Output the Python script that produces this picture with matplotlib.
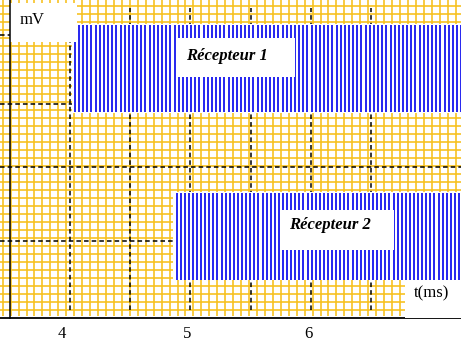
import numpy as np
import matplotlib
matplotlib.use('Agg')
import matplotlib.pyplot as plt
from matplotlib.patches import Rectangle
from matplotlib.transforms import ScaledTranslation

# ---- values ----
time_ticks = [4, 5, 6]                      # labelled times (ms)
major_t = [4.0, 4.5, 5.0, 5.5, 6.0, 6.5]    # dashed vertical grid (ms)
major_v = [9.6, 18.9, 26.75, 35.4]          # dashed horizontal grid (mV units)
axis_t = 3.5                                # position of the mV axis

# receiver bursts: start, end, period (ms), low and high level
burst1_t = [4.04, 7.25]
burst1_period = 0.0345
burst1_v = [25.7, 36.6]
burst2_t = [4.885, 7.25]
burst2_period = 0.034
burst2_v = [4.75, 15.65]

labels = ['Récepteur 1', 'Récepteur 2']

orange = '#f7c01a'
blue = '#0000ee'

fig = plt.figure(figsize=(4.61, 3.45), dpi=100)
ax = fig.add_axes([0, 27 / 345, 1, 318 / 345])
ax.set_xlim(3.4186, 7.2475)
ax.set_ylim(0, 39.75)

# millimetre paper (orange)
ax.vlines(np.arange(3.441, 7.25, 0.066), 0.25, 39.75, color=orange, lw=1.15, zorder=1)
ax.hlines(np.arange(1, 40, 1), 3.4186, 7.2475, color=orange, lw=1.15, zorder=1)

# dashed main grid
ax.vlines(major_t, 1, 38.75, color='black', lw=1.1, linestyles=(0, (3, 2)), zorder=2)
ax.hlines(major_v, 3.4186, 7.2475, color='black', lw=1.1, linestyles=(0, (3, 2)), zorder=2)

# axes lines
ax.spines['left'].set_position(('data', axis_t))
ax.spines['left'].set_linewidth(1.1)
ax.spines['bottom'].set_linewidth(1.3)
ax.spines['left'].set_zorder(6)
ax.spines['top'].set_visible(False)
ax.spines['right'].set_visible(False)
ax.set_yticks([])

# white backgrounds behind the bursts
ax.add_patch(Rectangle((4.017, 25.6), 3.3, 11.1, facecolor='white', edgecolor='none', zorder=3))
ax.add_patch(Rectangle((4.855, 4.7), 2.5, 11.0, facecolor='white', edgecolor='none', zorder=3))

# the two received signals
ax.vlines(np.arange(burst1_t[0], burst1_t[1], burst1_period), burst1_v[0], burst1_v[1],
          color=blue, lw=1.2, zorder=4)
ax.vlines(np.arange(burst2_t[0], burst2_t[1], burst2_period), burst2_v[0], burst2_v[1],
          color=blue, lw=1.2, zorder=4)

# white label boxes
ax.add_patch(Rectangle((3.505, 34.44), 0.555, 4.94, facecolor='white', edgecolor='none', zorder=5))  # mV
ax.add_patch(Rectangle((4.897, 30.12), 0.972, 4.88, facecolor='white', edgecolor='none', zorder=5))
ax.add_patch(Rectangle((5.761, 8.5), 0.93, 4.94, facecolor='white', edgecolor='none', zorder=5))
ax.add_patch(Rectangle((6.782, 0.05), 0.5, 4.7, facecolor='white', edgecolor='none', zorder=5))  # t(ms)

ax.text(5.30, 32.8, labels[0], fontsize=12, family='Liberation Serif', weight='bold',
        style='italic', ha='center', va='center', zorder=6)
ax.text(6.16, 11.6, labels[1], fontsize=12, family='Liberation Serif', weight='bold',
        style='italic', ha='center', va='center', zorder=6)
ax.text(3.685, 37.3, 'mV', fontsize=12, family='Liberation Serif', ha='center', va='center', zorder=6)
ax.text(7.0, 3.1, 't(ms)', fontsize=12, family='Liberation Serif', ha='center', va='center', zorder=6)

# time tick labels
ax.set_xticks(time_ticks)
ax.set_xticklabels([str(t) for t in time_ticks], fontsize=12, family='Liberation Serif')
ax.tick_params(axis='x', length=0, pad=6)
shifts = [-8, -3, -2]  # pixels
for lab, dx in zip(ax.get_xticklabels(), shifts):
    lab.set_transform(lab.get_transform() + ScaledTranslation(dx / 100, 0, fig.dpi_scale_trans))

fig.savefig('out.png', dpi=100)
